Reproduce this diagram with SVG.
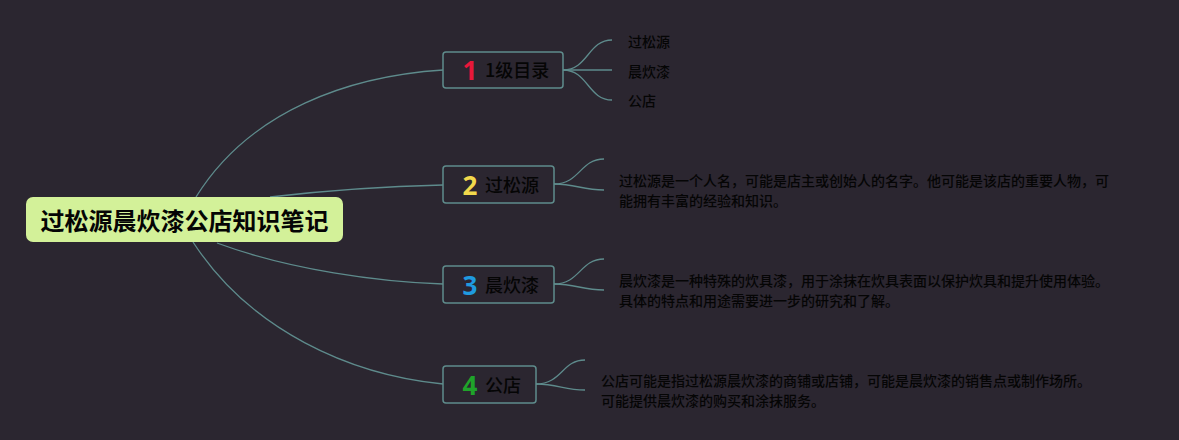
<svg xmlns="http://www.w3.org/2000/svg" width="1179" height="440" viewBox="0 0 1179 440">
<style>
.bg{fill:#2b2630}
.conn{fill:none;stroke:#5e8b8c;stroke-width:1.3}
.box{fill:#2b2630;stroke:#5f8c8c;stroke-width:1.5}
.cjk{font-family:"Noto Sans CJK SC","Noto Sans",sans-serif}
.lbl{font-size:18px;fill:#050505;font-weight:500}
.num{font-family:"Noto Sans","DejaVu Sans",sans-serif;font-size:26px;font-weight:bold;text-anchor:middle}
.small{font-size:14px;fill:#050505;font-weight:500}
</style>
<rect class="bg" x="0" y="0" width="1179" height="440"/>
<g id="connectors">
<path class="conn" d="M196,197 C250,110 350,76 443,70"/>
<path class="conn" d="M270,197 C330,190 400,186 443,185"/>
<path class="conn" d="M217,243 C290,270 380,282 443,284"/>
<path class="conn" d="M193,242 C250,330 350,375 443,384"/>
<path class="conn" d="M563,70 C588,70 588,40 612,40"/>
<path class="conn" d="M563,70 L612,70"/>
<path class="conn" d="M563,70 C588,70 588,100 612,100"/>
<path class="conn" d="M554,184 C580,184 580,159 604,159"/>
<path class="conn" d="M554,184 C576,184 582,190 604,190"/>
<path class="conn" d="M554,284 C580,284 580,259 604,259"/>
<path class="conn" d="M554,284 C576,284 582,290 604,290"/>
<path class="conn" d="M536,384 C562,384 562,360 585,360"/>
<path class="conn" d="M536,384 C558,384 564,390 585,390"/>
</g>
<g id="root">
<rect x="26" y="197" width="317" height="45" rx="7" fill="#d3f199"/>
<text class="cjk" x="184.5" y="229.5" font-size="24" font-weight="bold" fill="#050505" text-anchor="middle">过松源晨炊漆公店知识笔记</text>
</g>
<g id="node1">
<rect class="box" x="443" y="52" width="120" height="36" rx="3"/>
<text class="num" x="470" y="80" fill="#e8173a">1</text>
<text class="cjk lbl" x="485" y="77" font-size="17">1级目录</text>
</g>
<g id="node1-a"><text class="cjk small" x="628" y="47">过松源</text></g>
<g id="node1-b"><text class="cjk small" x="628" y="77">晨炊漆</text></g>
<g id="node1-c"><text class="cjk small" x="628" y="106">公店</text></g>
<g id="node2">
<rect class="box" x="443" y="166" width="111" height="37" rx="3"/>
<text class="num" x="470" y="195" fill="#f2d94c">2</text>
<text class="cjk lbl" x="485" y="192">过松源</text>
</g>
<g id="node2-text">
<text class="cjk small" x="619" y="186">过松源是一个人名，可能是店主或创始人的名字。他可能是该店的重要人物，可</text>
<text class="cjk small" x="619" y="206">能拥有丰富的经验和知识。</text>
</g>
<g id="node3">
<rect class="box" x="443" y="266" width="111" height="37" rx="3"/>
<text class="num" x="470" y="295" fill="#1f9be0">3</text>
<text class="cjk lbl" x="485" y="292">晨炊漆</text>
</g>
<g id="node3-text">
<text class="cjk small" x="619" y="286">晨炊漆是一种特殊的炊具漆，用于涂抹在炊具表面以保护炊具和提升使用体验。</text>
<text class="cjk small" x="619" y="306">具体的特点和用途需要进一步的研究和了解。</text>
</g>
<g id="node4">
<rect class="box" x="443" y="366" width="93" height="37" rx="3"/>
<text class="num" x="470" y="395" fill="#1fa32a">4</text>
<text class="cjk lbl" x="485" y="392">公店</text>
</g>
<g id="node4-text">
<text class="cjk small" x="601" y="386">公店可能是指过松源晨炊漆的商铺或店铺，可能是晨炊漆的销售点或制作场所。</text>
<text class="cjk small" x="601" y="406">可能提供晨炊漆的购买和涂抹服务。</text>
</g>
</svg>
